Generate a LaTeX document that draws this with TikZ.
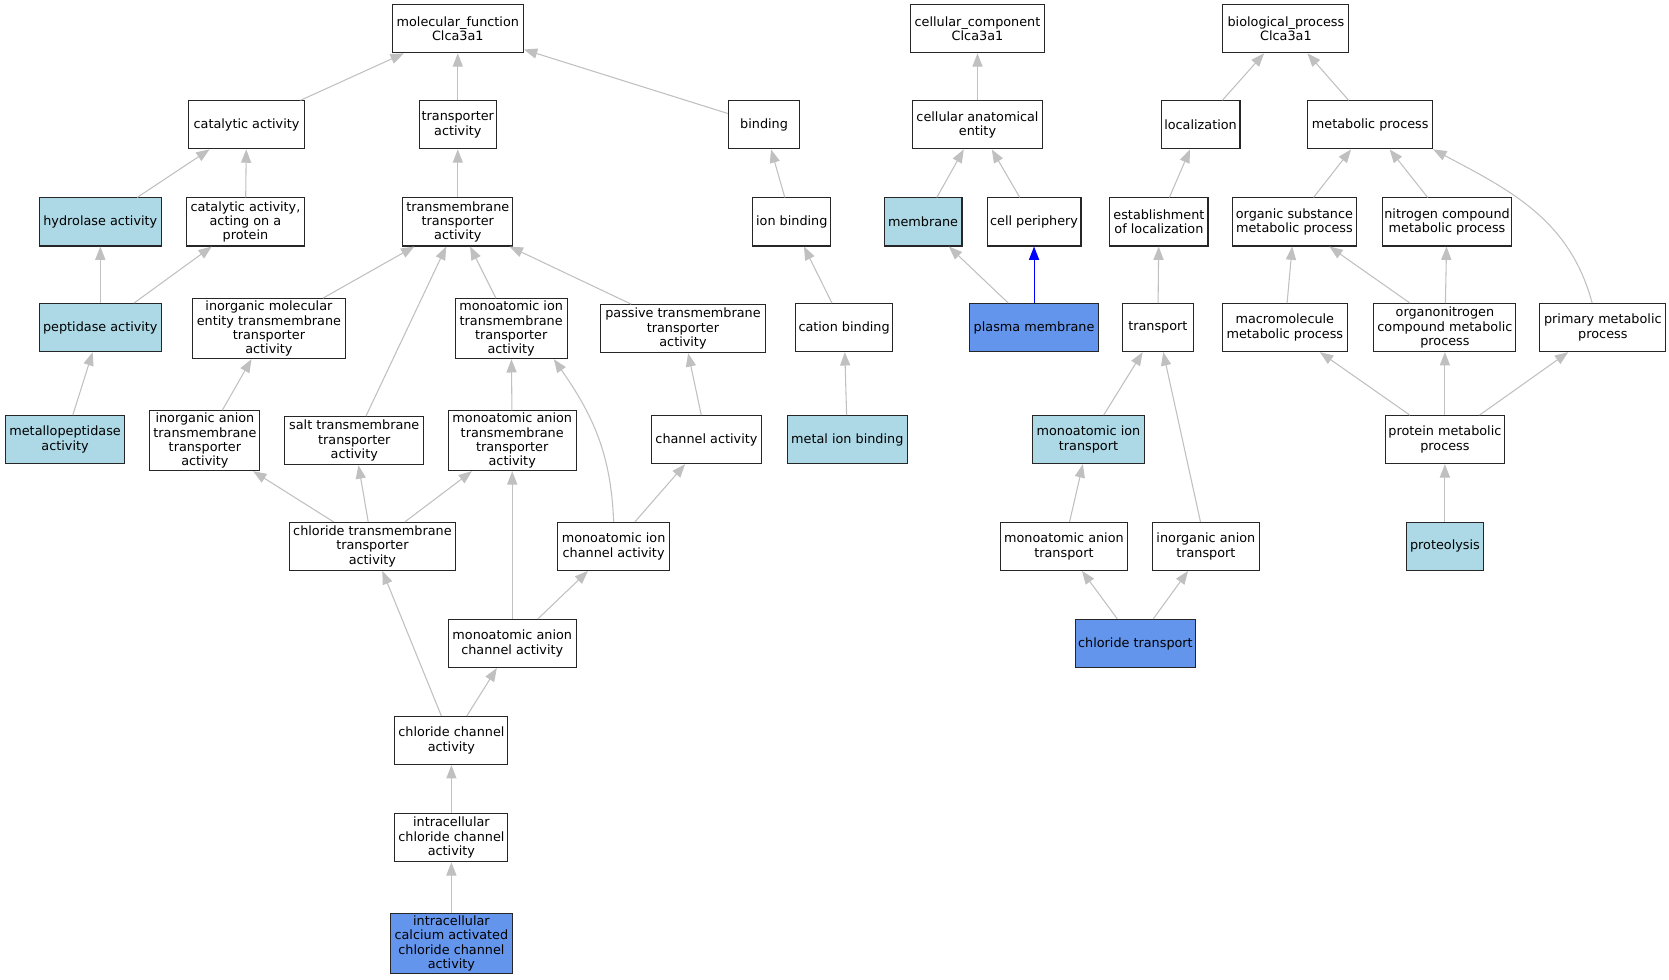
\documentclass[tikz,border=0pt]{standalone}
\usepackage{fontspec}
\setmainfont{DejaVu Sans}
\usetikzlibrary{arrows.meta}
\definecolor{lightblue}{RGB}{173,216,230}
\definecolor{cornflower}{RGB}{100,149,237}
\definecolor{edgegray}{RGB}{192,192,192}

\begin{document}
\begin{tikzpicture}[x=1pt,y=1pt]
		\tikzstyle{every node}+=[inner sep=2pt]
		\tikzstyle{term}=[draw=black!85, line width=1pt, fill=white, rectangle, align=center, minimum height=45pt, font=\fontsize{12}{13.5}\selectfont]
		\tikzstyle{leaf}=[term, fill=lightblue]
		\tikzstyle{hit}=[term, fill=cornflower]
		\tikzstyle{isa}=[draw=edgegray, line width=1pt, -{Triangle[length=12.5pt,width=9.5pt]}]
		\tikzstyle{partof}=[isa, draw=blue]
		\useasboundingbox (0,0) rectangle (1564,-917.5);
		\node [term, minimum width=123pt] (mf) at (429,-27) {molecular\_function\\Clca3a1};
		\node [term, minimum width=125pt] (cc) at (916,-27) {cellular\_component\\Clca3a1};
		\node [term, minimum width=118pt] (bp) at (1205,-27) {biological\_process\\Clca3a1};
		\node [term, minimum width=108pt] (cat) at (231,-117) {catalytic activity};
		\node [term, minimum width=72pt] (transp) at (429,-117) {transporter\\activity};
		\node [term, minimum width=67pt] (binding) at (716,-117) {binding};
		\node [term, minimum width=122pt] (cae) at (916,-117) {cellular anatomical\\entity};
		\node [term, minimum width=74pt] (loc) at (1125,-117) {localization};
		\node [term, minimum width=117pt] (metab) at (1284,-117) {metabolic process};
		\node [leaf, minimum width=114pt] (hydro) at (94,-208) {hydrolase activity};
		\node [term, minimum width=111pt] (catprot) at (230,-208) {catalytic activity,\\acting on a\\protein};
		\node [term, minimum width=103pt] (tmta) at (429,-208) {transmembrane\\transporter\\activity};
		\node [term, minimum width=73pt] (ionb) at (742,-208) {ion binding};
		\node [leaf, minimum width=73pt] (memb) at (865,-208) {membrane};
		\node [term, minimum width=88pt] (periph) at (969,-208) {cell periphery};
		\node [term, minimum width=92pt] (estab) at (1086,-208) {establishment\\of localization};
		\node [term, minimum width=116pt] (orgsub) at (1213,-208) {organic substance\\metabolic process};
		\node [term, minimum width=121pt] (nitro) at (1356,-208) {nitrogen compound\\metabolic process};
		\node [leaf, minimum width=114pt] (pept) at (94,-307) {peptidase activity};
		\node [term, minimum width=143pt] (inorgmol) at (252,-308) {inorganic molecular\\entity transmembrane\\transporter\\activity};
		\node [term, minimum width=105pt] (monoiontta) at (479,-308) {monoatomic ion\\transmembrane\\transporter\\activity};
		\node [term, minimum width=154pt] (passive) at (640,-308) {passive transmembrane\\transporter\\activity};
		\node [term, minimum width=91pt] (cation) at (791,-307) {cation binding};
		\node [hit, minimum width=121pt] (plasma) at (969,-307) {plasma membrane};
		\node [term, minimum width=66pt] (transport) at (1085,-307) {transport};
		\node [term, minimum width=117pt] (macro) at (1204,-307) {macromolecule\\metabolic process};
		\node [term, minimum width=133pt] (orgnit) at (1354,-307) {organonitrogen\\compound metabolic\\process};
		\node [term, minimum width=118pt] (primary) at (1502,-307) {primary metabolic\\process};
		\node [leaf, minimum width=112pt] (metallo) at (61,-412) {metallopeptidase\\activity};
		\node [term, minimum width=103pt] (inorgantta) at (192,-413) {inorganic anion\\transmembrane\\transporter\\activity};
		\node [term, minimum width=130pt] (salt) at (332,-413) {salt transmembrane\\transporter\\activity};
		\node [term, minimum width=120pt] (monoantta) at (480,-413) {monoatomic anion\\transmembrane\\transporter\\activity};
		\node [term, minimum width=103pt] (channel) at (662,-412) {channel activity};
		\node [leaf, minimum width=112pt] (metalion) at (794,-412) {metal ion binding};
		\node [leaf, minimum width=105pt] (monoiontr) at (1020,-412) {monoatomic ion\\transport};
		\node [term, minimum width=112pt] (protmet) at (1354,-412) {protein metabolic\\process};
		\node [term, minimum width=156pt] (chltta) at (349,-512) {chloride transmembrane\\transporter\\activity};
		\node [term, minimum width=105pt] (monoionch) at (575,-512) {monoatomic ion\\channel activity};
		\node [term, minimum width=119pt] (monoantr) at (997,-512) {monoatomic anion\\transport};
		\node [term, minimum width=100pt] (inorgantr) at (1130,-512) {inorganic anion\\transport};
		\node [leaf, minimum width=72pt] (proteo) at (1354,-512) {proteolysis};
		\node [term, minimum width=120pt] (monoanch) at (480,-603) {monoatomic anion\\channel activity};
		\node [hit, minimum width=113pt] (chltr) at (1064,-603) {chloride transport};
		\node [term, minimum width=106pt] (chlch) at (423,-694) {chloride channel\\activity};
		\node [term, minimum width=106pt] (intrach) at (423,-785) {intracellular\\chloride channel\\activity};
		\node [hit, minimum width=115pt] (calcium) at (423,-884) {intracellular\\calcium activated\\chloride channel\\activity};
		\draw [isa] (cat) -- (mf);
		\draw [isa] (transp) -- (mf);
		\draw [isa] (binding) -- (mf);
		\draw [isa] (hydro) -- (cat);
		\draw [isa] (catprot) -- (cat);
		\draw [isa] (pept) -- (hydro);
		\draw [isa] (pept) -- (catprot);
		\draw [isa] (metallo) -- (pept);
		\draw [isa] (tmta) -- (transp);
		\draw [isa] (inorgmol) -- (tmta);
		\draw [isa] (salt) -- (tmta);
		\draw [isa] (monoiontta) -- (tmta);
		\draw [isa] (passive) -- (tmta);
		\draw [isa] (inorgantta) -- (inorgmol);
		\draw [isa] (monoantta) -- (monoiontta);
		\draw [isa] (chltta) -- (inorgantta);
		\draw [isa] (chltta) -- (salt);
		\draw [isa] (chltta) -- (monoantta);
		\draw [isa] (monoionch.north) to [out=92,in=-55] ([xshift=-13pt]monoiontta.south east);
		\draw [isa] (monoionch) -- (channel);
		\draw [isa] (channel) -- (passive);
		\draw [isa] (monoanch) -- (monoantta);
		\draw [isa] (monoanch) -- (monoionch);
		\draw [isa] (chlch) -- (chltta);
		\draw [isa] (chlch) -- (monoanch);
		\draw [isa] (intrach) -- (chlch);
		\draw [isa] (calcium) -- (intrach);
		\draw [isa] (ionb) -- (binding);
		\draw [isa] (cation) -- (ionb);
		\draw [isa] (metalion) -- (cation);
		\draw [isa] (cae) -- (cc);
		\draw [isa] (memb) -- (cae);
		\draw [isa] (periph) -- (cae);
		\draw [isa] (plasma) -- (memb);
		\draw [partof] (plasma) -- (periph);
		\draw [isa] (loc) -- (bp);
		\draw [isa] (metab) -- (bp);
		\draw [isa] (estab) -- (loc);
		\draw [isa] (transport) -- (estab);
		\draw [isa] (monoiontr) -- (transport);
		\draw [isa] (inorgantr) -- (transport);
		\draw [isa] (monoantr) -- (monoiontr);
		\draw [isa] (chltr) -- (monoantr);
		\draw [isa] (chltr) -- (inorgantr);
		\draw [isa] (orgsub) -- (metab);
		\draw [isa] (nitro) -- (metab);
		\draw [isa] ([xshift=-10pt]primary.north) to [out=105,in=-28] (metab.south east);
		\draw [isa] (macro) -- (orgsub);
		\draw [isa] (orgnit) -- (orgsub);
		\draw [isa] (orgnit) -- (nitro);
		\draw [isa] (protmet) -- (macro);
		\draw [isa] (protmet) -- (orgnit);
		\draw [isa] (protmet) -- (primary);
		\draw [isa] (proteo) -- (protmet);
	\end{tikzpicture}
\end{document}
